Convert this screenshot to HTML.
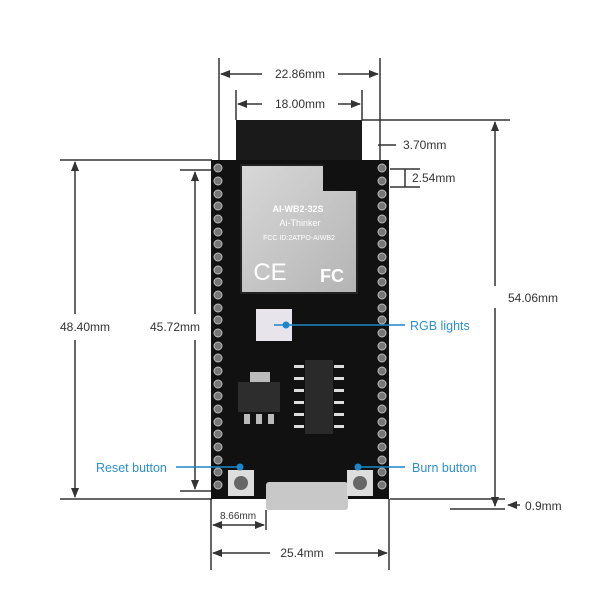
<!DOCTYPE html>
<html><head><meta charset="utf-8"><style>
html,body{margin:0;padding:0;background:#fff;}
svg{display:block;}
text{font-family:"Liberation Sans",sans-serif;}
</style></head><body>
<svg width="600" height="600" viewBox="0 0 600 600" xmlns="http://www.w3.org/2000/svg">
<defs>
<marker id="a" markerWidth="10" markerHeight="8" refX="9" refY="4" orient="auto-start-reverse" markerUnits="userSpaceOnUse"><path d="M0,0 L10,4 L0,8 Z" fill="#333"/></marker>
<linearGradient id="sh" x1="0" y1="0" x2="1" y2="1"><stop offset="0" stop-color="#d8d8d8"/><stop offset="1" stop-color="#b4b4b4"/></linearGradient>
</defs>
<g stroke="#333" stroke-width="1.5" fill="none">
<!-- 22.86 -->
<line x1="219" y1="58" x2="219" y2="160"/><line x1="380" y1="58" x2="380" y2="160"/>
<line x1="221" y1="74" x2="262" y2="74" marker-start="url(#a)"/><line x1="338" y1="74" x2="378" y2="74" marker-end="url(#a)"/>
<!-- 18.00 -->
<line x1="236" y1="90" x2="236" y2="120"/><line x1="362" y1="90" x2="362" y2="120"/>
<line x1="238" y1="104" x2="262" y2="104" marker-start="url(#a)"/><line x1="338" y1="104" x2="360" y2="104" marker-end="url(#a)"/>
<!-- 54.06 -->
<line x1="362" y1="120" x2="510" y2="120"/>
<line x1="495" y1="122" x2="495" y2="286" marker-start="url(#a)"/><line x1="495" y1="308" x2="495" y2="506" marker-end="url(#a)"/>
<!-- 3.70 -->
<line x1="378" y1="145" x2="396" y2="145"/>
<!-- 2.54 -->
<line x1="390" y1="169" x2="420" y2="169"/><line x1="390" y1="187" x2="420" y2="187"/><line x1="405" y1="169" x2="405" y2="187"/>
<!-- 48.40 -->
<line x1="60" y1="160" x2="212" y2="160"/><line x1="60" y1="499" x2="212" y2="499"/>
<line x1="75" y1="162" x2="75" y2="314" marker-start="url(#a)"/><line x1="75" y1="340" x2="75" y2="497" marker-end="url(#a)"/>
<!-- 45.72 -->
<line x1="180" y1="170" x2="212" y2="170"/><line x1="180" y1="491" x2="212" y2="491"/>
<line x1="195" y1="172" x2="195" y2="314" marker-start="url(#a)"/><line x1="195" y1="340" x2="195" y2="489" marker-end="url(#a)"/>
<!-- 0.9 -->
<line x1="390" y1="499" x2="505" y2="499"/><line x1="450" y1="509" x2="505" y2="509"/>
<line x1="520" y1="505" x2="508" y2="505" marker-end="url(#a)"/>
<!-- 8.66 / 25.4 -->
<line x1="211" y1="499" x2="211" y2="570"/><line x1="266" y1="510" x2="266" y2="530"/><line x1="389" y1="499" x2="389" y2="570"/>
<line x1="213" y1="525" x2="264" y2="525" marker-start="url(#a)" marker-end="url(#a)"/>
<line x1="213" y1="553" x2="270" y2="553" marker-start="url(#a)"/><line x1="335" y1="553" x2="387" y2="553" marker-end="url(#a)"/>
</g>
<g fill="#333" font-size="12">
<text x="300" y="78" text-anchor="middle">22.86mm</text>
<text x="300" y="108" text-anchor="middle">18.00mm</text>
<text x="403" y="149">3.70mm</text>
<text x="412" y="182">2.54mm</text>
<text x="508" y="302">54.06mm</text>
<text x="60" y="331">48.40mm</text>
<text x="150" y="331">45.72mm</text>
<text x="525" y="510">0.9mm</text>
<text x="238" y="519" text-anchor="middle" font-size="10">8.66mm</text>
<text x="302" y="557" text-anchor="middle">25.4mm</text>
</g>
<!-- board -->
<rect x="236" y="120" width="126" height="45" fill="#1a1a1a"/>
<rect x="211" y="160" width="178" height="339" fill="#111"/>
<g fill="#777" stroke="#bbb" stroke-width="1">
<g id="pins">
<circle cx="218" cy="168" r="4"/><circle cx="218" cy="181" r="4"/><circle cx="218" cy="194" r="4"/><circle cx="218" cy="206" r="4"/><circle cx="218" cy="219" r="4"/><circle cx="218" cy="232" r="4"/><circle cx="218" cy="244" r="4"/><circle cx="218" cy="257" r="4"/><circle cx="218" cy="270" r="4"/><circle cx="218" cy="282" r="4"/><circle cx="218" cy="295" r="4"/><circle cx="218" cy="308" r="4"/><circle cx="218" cy="320" r="4"/><circle cx="218" cy="333" r="4"/><circle cx="218" cy="346" r="4"/><circle cx="218" cy="358" r="4"/><circle cx="218" cy="371" r="4"/><circle cx="218" cy="384" r="4"/><circle cx="218" cy="396" r="4"/><circle cx="218" cy="409" r="4"/><circle cx="218" cy="422" r="4"/><circle cx="218" cy="434" r="4"/><circle cx="218" cy="447" r="4"/><circle cx="218" cy="460" r="4"/><circle cx="218" cy="472" r="4"/><circle cx="218" cy="485" r="4"/>
</g>
<use href="#pins" transform="translate(164,0)"/>
</g>
<!-- shield -->
<rect x="241" y="165" width="116" height="128" fill="url(#sh)" stroke="#222" stroke-width="2"/>
<rect x="323" y="163" width="36" height="28" fill="#111"/>
<text x="298" y="212" text-anchor="middle" font-size="9" font-weight="bold" fill="#fff">AI-WB2-32S</text>
<text x="300" y="226" text-anchor="middle" font-size="9" fill="#fff">Ai-Thinker</text>
<text x="299" y="240" text-anchor="middle" font-size="7" fill="#fff">FCC ID:2ATPO-AIWB2</text>
<text x="270" y="280" text-anchor="middle" font-size="24" fill="#fff">CE</text>
<text x="332" y="282" text-anchor="middle" font-size="18" font-weight="bold" fill="#fff">FC</text>
<!-- components -->
<rect x="256" y="309" width="36" height="32" fill="#e8e4ec"/>
<rect x="305" y="360" width="28" height="74" fill="#2a2a2a"/>
<g fill="#ddd"><rect x="294" y="365" width="10" height="3"/><rect x="294" y="377" width="10" height="3"/><rect x="294" y="389" width="10" height="3"/><rect x="294" y="401" width="10" height="3"/><rect x="294" y="413" width="10" height="3"/><rect x="294" y="425" width="10" height="3"/><rect x="334" y="365" width="10" height="3"/><rect x="334" y="377" width="10" height="3"/><rect x="334" y="389" width="10" height="3"/><rect x="334" y="401" width="10" height="3"/><rect x="334" y="413" width="10" height="3"/><rect x="334" y="425" width="10" height="3"/></g>
<rect x="250" y="372" width="20" height="10" fill="#bbb"/>
<rect x="238" y="382" width="42" height="30" fill="#2d2d2d"/>
<g fill="#bbb"><rect x="244" y="414" width="6" height="10"/><rect x="256" y="414" width="6" height="10"/><rect x="268" y="414" width="6" height="10"/></g>
<rect x="266" y="482" width="82" height="28" rx="3" fill="#c8c8c8"/>
<rect x="228" y="470" width="26" height="26" fill="#ddd"/><circle cx="241" cy="483" r="7" fill="#666"/>
<rect x="347" y="470" width="26" height="26" fill="#ddd"/><circle cx="360" cy="483" r="7" fill="#666"/>
<!-- callouts -->
<g stroke="#1b87c9" stroke-width="1.5"><line x1="274" y1="325" x2="405" y2="325"/><line x1="176" y1="467" x2="240" y2="467"/><line x1="356" y1="467" x2="405" y2="467"/></g>
<g fill="#1b87c9"><circle cx="286" cy="325" r="3.5"/><circle cx="240" cy="467" r="3.5"/><circle cx="358" cy="467" r="3.5"/></g>
<g fill="#2e8fcf" font-size="12.5">
<text x="410" y="330">RGB lights</text>
<text x="96" y="472">Reset button</text>
<text x="412" y="472">Burn button</text>
</g>
</svg>
</body></html>
